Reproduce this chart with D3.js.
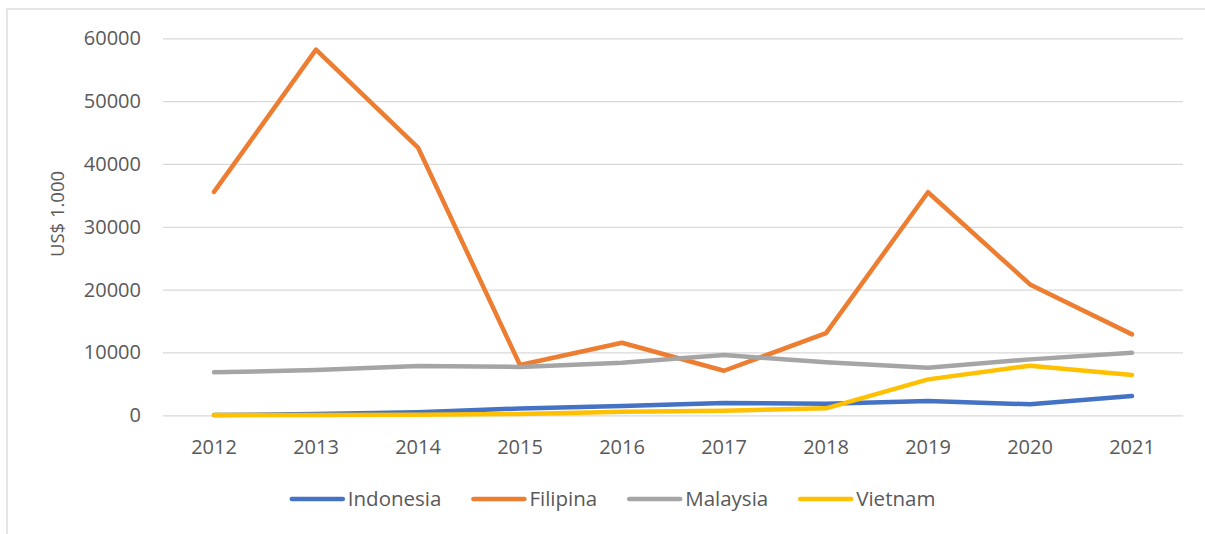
<!DOCTYPE html>
<html>

<head>
  <meta charset="UTF-8">
  <title>US$ 1.000</title>
  <script src="https://d3js.org/d3.v7.min.js"></script>
  <style>
    body {
      margin: 0;
      background: #fff;
    }

    svg text {
      font-family: "Open Sans", sans-serif;
      fill: #595959;
    }
  </style>
</head>

<body>
  <svg></svg>
</body>

<script>
  // data
  let years = ["2012", "2013", "2014", "2015", "2016", "2017", "2018", "2019", "2020", "2021"];
  let indonesia = [40, 200, 500, 1080, 1480, 1950, 1850, 2270, 1750, 3070];
  let filipina = [35550, 58190, 42610, 8000, 11540, 7090, 13080, 35500, 20830, 12880];
  let malaysia = [6840, 7200, 7840, 7700, 8360, 9590, 8430, 7570, 8900, 9950];
  let vietnam = [30, 60, 100, 200, 570, 730, 1110, 5720, 7890, 6410];
  let yTicks = [0, 10000, 20000, 30000, 40000, 50000, 60000];

  let seriesNames = ["Indonesia", "Filipina", "Malaysia", "Vietnam"];
  let colors = ["#4472C4", "#ED7D31", "#A5A5A5", "#FFC000"];

  let width = 1205,
    height = 534;

  let svg = d3.select("svg")
    .attr("width", width)
    .attr("height", height);

  // outer frame of the chart (cut off at right and bottom)
  svg.append("rect")
    .attr("x", 7)
    .attr("y", 9)
    .attr("width", 1220)
    .attr("height", 540)
    .attr("fill", "none")
    .attr("stroke", "#D9D9D9")
    .attr("stroke-width", 1.3);

  let plotLeft = 163,
    plotRight = 1183,
    plotTop = 38.3,
    plotBottom = 415.3;

  let x = d3.scaleBand()
    .domain(years)
    .range([plotLeft, plotRight]);

  let y = d3.scaleLinear()
    .domain([0, 60000])
    .range([plotBottom, plotTop]);

  // gridlines + y labels
  let yAxis = svg.append("g")
    .attr("transform", "translate(" + plotLeft + ",0)")
    .call(d3.axisLeft(y).tickValues(yTicks).tickSize(-(plotRight - plotLeft)).tickPadding(22).tickFormat(d3.format("d")));
  yAxis.select(".domain").remove();
  yAxis.selectAll("line").attr("stroke", "#D9D9D9").attr("stroke-width", 1.3);
  yAxis.selectAll("text").style("font-size", "20px").attr("fill", "#595959");

  // x labels
  let xAxis = svg.append("g")
    .attr("transform", "translate(0," + plotBottom + ")")
    .call(d3.axisBottom(x).tickSize(0).tickPadding(24.5));
  xAxis.select(".domain").remove();
  xAxis.selectAll("text").style("font-size", "20px").attr("fill", "#595959");

  // y axis title
  svg.append("text")
    .attr("transform", "translate(64,214) rotate(-90)")
    .attr("text-anchor", "middle")
    .style("font-size", "18.5px")
    .text("US$ 1.000");

  let series = [indonesia, filipina, malaysia, vietnam].map((vals, i) => ({
    name: seriesNames[i],
    color: colors[i],
    values: vals.map((v, j) => ({ year: years[j], value: v }))
  }));

  let line = d3.line()
    .x(d => x(d.year) + x.bandwidth() / 2)
    .y(d => y(d.value));

  svg.append("g")
    .selectAll("path")
    .data(series)
    .enter()
    .append("path")
    .attr("d", d => line(d.values))
    .attr("fill", "none")
    .attr("stroke", d => d.color)
    .attr("stroke-width", 4.5)
    .attr("stroke-linejoin", "round")
    .attr("stroke-linecap", "round");

  // legend
  let legend = svg.append("g");
  let items = legend.selectAll("g")
    .data(series)
    .enter()
    .append("g");
  items.append("line")
    .attr("x1", 2)
    .attr("x2", 53)
    .attr("y1", 0)
    .attr("y2", 0)
    .attr("stroke", d => d.color)
    .attr("stroke-width", 4.5)
    .attr("stroke-linecap", "round");
  items.append("text")
    .attr("x", 58)
    .attr("y", 0)
    .attr("dy", "0.35em")
    .style("font-size", "20.5px")
    .text(d => d.name);

  let pos = 0;
  items.each(function(d) {
    let w = d3.select(this).select("text").node().getComputedTextLength();
    d3.select(this).attr("transform", "translate(" + pos + ",0)");
    pos += 58 + w + 30;
  });
  let total = pos - 30;
  legend.attr("transform", "translate(" + (612.6 - total / 2) + ",499)");
</script>

</html>
